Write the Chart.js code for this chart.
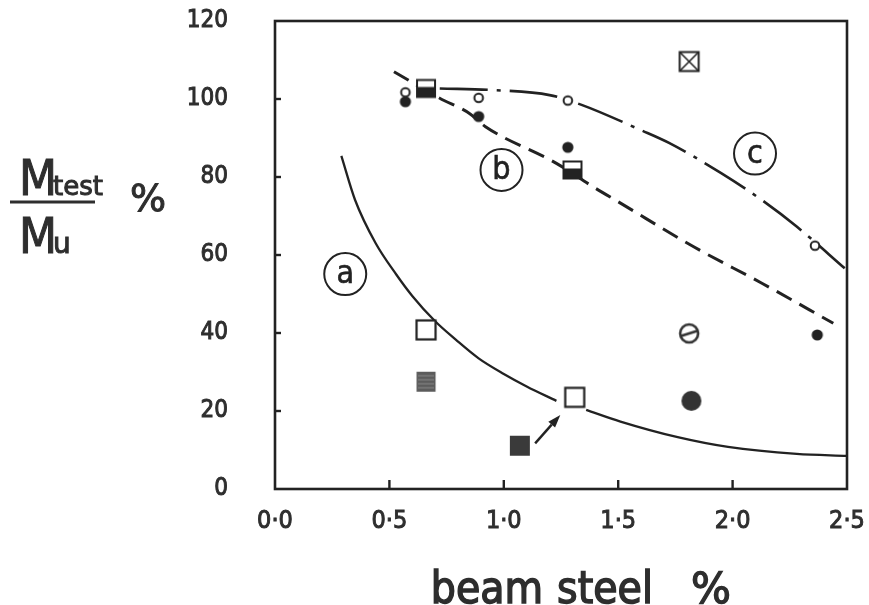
<!DOCTYPE html>
<html>
<head>
<meta charset="utf-8">
<script src="https://cdn.jsdelivr.net/npm/chart.js@4.4.1/dist/chart.umd.min.js"></script>
<style>
html,body{margin:0;padding:0;background:#fff;}
#wrap{width:869px;height:605px;}
</style>
</head>
<body>
<div id="wrap"><canvas id="c" width="869" height="605" style="width:869px;height:605px"></canvas></div>
<script>
// ---- axis tick labels ----
const xTickLabels = ['0·0','0·5','1·0','1·5','2·0','2·5'];

// ---- curve (a): solid ----
const curveAX = [0.29, 0.35, 0.44, 0.53, 0.60, 0.70, 0.79, 0.89, 1.00, 1.10, 1.23, 1.30, 1.36, 1.51, 1.76, 1.98, 2.28, 2.50];
const curveAY = [85.4, 74.1, 63.0, 55.0, 49.5, 43.0, 38.3, 33.5, 29.5, 26.3, 22.6, null, 20.3, 17.3, 13.3, 10.8, 9.0, 8.5];
// ---- curve (b): dashed ----
const curveBX = [0.52, 0.72, 0.85, 0.92, 1.23, 1.39, 1.51, 1.83, 2.13, 2.44];
const curveBY = [107.0, 100.2, 96.3, 92.9, 83.5, 77.5, 73.3, 62.1, 52.7, 42.5];
// ---- curve (c): dash-dot ----
const curveCX = [0.72, 0.95, 1.20, 1.34, 1.60, 1.72, 1.95, 2.13, 2.28, 2.49];
const curveCY = [102.7, 102.3, 101.0, 98.5, 92.0, 88.8, 81.0, 74.0, 67.3, 56.6];

// ---- test points ----
const openSmallX = [0.57, 0.89, 1.28, 2.36];
const openSmallY = [101.7, 100.3, 99.6, 62.4];
const filledSmallX = [0.57, 0.89, 1.28, 2.37];
const filledSmallY = [99.3, 95.5, 87.6, 39.5];
const halfSquareX = [0.66, 1.30];
const halfSquareY = [102.7, 81.8];
const crossSquareX = [1.81];
const crossSquareY = [109.6];
const openSquareX = [0.66, 1.31];
const openSquareY = [40.8, 23.5];
const hatchedSquareX = [0.66];
const hatchedSquareY = [27.5];
const darkSquareX = [1.07];
const darkSquareY = [11.1];
const slashCircleX = [1.81];
const slashCircleY = [39.9];
const bigCircleX = [1.82];
const bigCircleY = [22.6];

// ---- curve labels and arrow ----
const curveLabels = ['a', 'b', 'c'];
const curveLabelX = [0.307, 0.99, 2.098];
const curveLabelY = [55.1, 81.8, 86.0];
const arrowX = [1.137, 1.247];
const arrowY = [11.7, 19.0];

const NARROW = '"Liberation Sans Narrow", "DejaVu Sans Condensed", sans-serif';
const INK = '#222';

function pts(xs, ys) { return xs.map((x, i) => ({x: x, y: ys[i]})); }

function mk(size, fn) {
  const c = document.createElement('canvas');
  c.width = size; c.height = size;
  const g = c.getContext('2d');
  fn(g, size / 2);
  return c;
}
const mOpenSmall = mk(14, (g, m) => { g.beginPath(); g.arc(m, m, 4.3, 0, Math.PI*2); g.fillStyle='#fff'; g.fill(); g.lineWidth=2; g.strokeStyle=INK; g.stroke(); });
const mFilledSmall = mk(16, (g, m) => { g.beginPath(); g.arc(m, m, 5.6, 0, Math.PI*2); g.fillStyle=INK; g.fill(); });
const mHalfSquare = mk(22, (g, m) => { g.fillStyle='#fff'; g.fillRect(m-9, m-8.5, 18, 17); g.fillStyle=INK; g.fillRect(m-9, m-1.5, 18, 10); g.lineWidth=2; g.strokeStyle=INK; g.strokeRect(m-9, m-8.5, 18, 17); });
const mCrossSquare = mk(24, (g, m) => { g.fillStyle='#fff'; g.fillRect(m-9.5, m-9.5, 19, 19); g.lineWidth=2; g.strokeStyle=INK; g.strokeRect(m-9.5, m-9.5, 19, 19); g.beginPath(); g.moveTo(m-9, m-9); g.lineTo(m+9, m+9); g.moveTo(m+9, m-9); g.lineTo(m-9, m+9); g.lineWidth=1.6; g.stroke(); });
const mOpenSquare = mk(24, (g, m) => { g.fillStyle='#fff'; g.fillRect(m-9.5, m-9.5, 19, 19); g.lineWidth=2.2; g.strokeStyle=INK; g.strokeRect(m-9.5, m-9.5, 19, 19); });
const mHatched = mk(24, (g, m) => { g.fillStyle='#5c5c5c'; g.fillRect(m-9.5, m-10, 19, 20); g.strokeStyle='#8a8a8a'; g.lineWidth=1; for (let k=-6; k<=6; k+=4) { g.beginPath(); g.moveTo(m-8, m+k); g.lineTo(m+8, m+k); g.stroke(); } });
const mDark = mk(24, (g, m) => { g.fillStyle='#3a3a3a'; g.fillRect(m-10, m-10, 20, 20); });
const mSlash = mk(26, (g, m) => { g.beginPath(); g.arc(m, m, 9, 0, Math.PI*2); g.fillStyle='#fff'; g.fill(); g.lineWidth=2.6; g.strokeStyle='#333'; g.stroke(); g.beginPath(); g.moveTo(m-8, m+2.5); g.lineTo(m+8, m-2.5); g.stroke(); });
const mBig = mk(24, (g, m) => { g.beginPath(); g.arc(m, m, 10, 0, Math.PI*2); g.fillStyle='#333'; g.fill(); });

function markerSet(xs, ys, img) {
  return { type: 'scatter', data: pts(xs, ys), pointStyle: img, pointRadius: 10, showLine: false, order: 1,
           borderColor: INK, backgroundColor: INK };
}

function boldText(ctx, txt, x, y) { ctx.fillText(txt, x, y); ctx.strokeText(txt, x, y); }

const deco = {
  id: 'deco',
  beforeDatasetsDraw(chart) {
    const ctx = chart.ctx, a = chart.chartArea, xs = chart.scales.x, ys = chart.scales.y;
    ctx.save();
    ctx.strokeStyle = INK; ctx.lineWidth = 2.6;
    ctx.strokeRect(a.left, a.top, a.right - a.left, a.bottom - a.top);
    ctx.lineWidth = 2.4;
    ys.ticks.forEach(t => {
      if (t.value > ys.min && t.value < ys.max) {
        const y = ys.getPixelForValue(t.value);
        ctx.beginPath(); ctx.moveTo(a.left, y); ctx.lineTo(a.left + 6, y); ctx.stroke();
      }
    });
    xs.ticks.forEach(t => {
      if (t.value > xs.min && t.value < xs.max) {
        const x = xs.getPixelForValue(t.value);
        ctx.beginPath(); ctx.moveTo(x, a.bottom); ctx.lineTo(x, a.bottom - 9); ctx.stroke();
      }
    });
    ctx.restore();
  },
  afterDatasetsDraw(chart) {
    const ctx = chart.ctx, xs = chart.scales.x, ys = chart.scales.y;
    ctx.save();
    curveLabels.forEach((lab, i) => {
      const cx = xs.getPixelForValue(curveLabelX[i]), cy = ys.getPixelForValue(curveLabelY[i]);
      ctx.beginPath(); ctx.arc(cx, cy, 21, 0, Math.PI * 2);
      ctx.lineWidth = 2; ctx.strokeStyle = INK; ctx.stroke();
      ctx.fillStyle = INK; ctx.font = '32px ' + NARROW;
      ctx.textAlign = 'center'; ctx.textBaseline = 'alphabetic';
      ctx.lineWidth = 0.6;
      boldText(ctx, lab, cx, cy + 9);
    });
    const x0 = xs.getPixelForValue(arrowX[0]), y0 = ys.getPixelForValue(arrowY[0]);
    const x1 = xs.getPixelForValue(arrowX[1]), y1 = ys.getPixelForValue(arrowY[1]);
    const ang = Math.atan2(y1 - y0, x1 - x0), L = 13, W = 4.5;
    const bx = x1 - L * Math.cos(ang), by = y1 - L * Math.sin(ang);
    ctx.beginPath(); ctx.moveTo(x0, y0); ctx.lineTo(bx, by);
    ctx.lineWidth = 2.4; ctx.strokeStyle = INK; ctx.stroke();
    ctx.beginPath(); ctx.moveTo(x1, y1);
    ctx.lineTo(bx + W * Math.sin(ang), by - W * Math.cos(ang));
    ctx.lineTo(bx - W * Math.sin(ang), by + W * Math.cos(ang));
    ctx.closePath(); ctx.fillStyle = INK; ctx.fill();
    ctx.restore();
  },
  afterDraw(chart) {
    const ctx = chart.ctx;
    ctx.save();
    ctx.fillStyle = '#2e2e2e'; ctx.strokeStyle = '#2e2e2e'; ctx.lineWidth = 1;
    ctx.textAlign = 'left'; ctx.textBaseline = 'alphabetic';
    ctx.font = '49px ' + NARROW; boldText(ctx, 'M', 19, 195);
    ctx.font = '26px "DejaVu Sans"'; boldText(ctx, 'test', 53, 195);
    ctx.beginPath(); ctx.moveTo(10, 202); ctx.lineTo(95, 202); ctx.lineWidth = 3; ctx.stroke();
    ctx.lineWidth = 1;
    ctx.font = '49px ' + NARROW; boldText(ctx, 'M', 19, 253);
    ctx.font = '28px "DejaVu Sans"'; boldText(ctx, 'u', 53, 253);
    ctx.textAlign = 'center'; ctx.textBaseline = 'middle';
    ctx.font = '38px "DejaVu Sans"'; boldText(ctx, '%', 148, 201);
    ctx.textBaseline = 'alphabetic';
    ctx.lineWidth = 1.4;
    ctx.font = '44px ' + NARROW;
    boldText(ctx, 'beam', 487, 603);
    boldText(ctx, 'steel', 605, 603);
    ctx.font = '42px "DejaVu Sans"';
    boldText(ctx, '%', 711, 603);
    ctx.restore();
  }
};

new Chart(document.getElementById('c'), {
  type: 'line',
  data: {
    datasets: [
      markerSet(openSmallX, openSmallY, mOpenSmall),
      markerSet(filledSmallX, filledSmallY, mFilledSmall),
      markerSet(halfSquareX, halfSquareY, mHalfSquare),
      markerSet(crossSquareX, crossSquareY, mCrossSquare),
      markerSet(openSquareX, openSquareY, mOpenSquare),
      markerSet(hatchedSquareX, hatchedSquareY, mHatched),
      markerSet(darkSquareX, darkSquareY, mDark),
      markerSet(slashCircleX, slashCircleY, mSlash),
      markerSet(bigCircleX, bigCircleY, mBig),
      { data: pts(curveAX, curveAY), borderColor: INK, borderWidth: 2.3, pointRadius: 0,
        cubicInterpolationMode: 'monotone', spanGaps: false, fill: false, order: 10 },
      { data: pts(curveBX, curveBY), borderColor: INK, borderWidth: 3, borderDash: [17, 9], pointRadius: 0,
        cubicInterpolationMode: 'monotone', fill: false, order: 10 },
      { data: pts(curveCX, curveCY), borderColor: INK, borderWidth: 2.6, borderDash: [48, 9, 4, 9], pointRadius: 0,
        cubicInterpolationMode: 'monotone', fill: false, order: 10 }
    ]
  },
  options: {
    responsive: false,
    animation: false,
    devicePixelRatio: 1,
    layout: { padding: { top: 21, right: 22, left: 0, bottom: 0 } },
    plugins: { legend: { display: false }, tooltip: { enabled: false } },
    scales: {
      x: {
        type: 'linear', min: 0, max: 2.5,
        grid: { display: false, drawTicks: false },
        border: { display: false },
        ticks: { stepSize: 0.5, padding: 17, color: '#2e2e2e', maxRotation: 0,
                 textStrokeColor: '#2e2e2e', textStrokeWidth: 0.9,
                 font: { family: NARROW, size: 25 },
                 callback: (v) => xTickLabels[Math.round(v / 0.5)] },
        afterFit: (s) => { s.height = 116; s.paddingLeft = 0; s.paddingRight = 0; s.paddingTop = 0; s.paddingBottom = 0; }
      },
      y: {
        type: 'linear', min: 0, max: 120,
        grid: { display: false, drawTicks: false },
        border: { display: false },
        ticks: { stepSize: 20, padding: 47, color: '#2e2e2e',
                 textStrokeColor: '#2e2e2e', textStrokeWidth: 0.9,
                 font: { family: NARROW, size: 24 } },
        afterFit: (s) => { s.width = 275; s.paddingLeft = 0; s.paddingRight = 0; s.paddingTop = 0; s.paddingBottom = 0; }
      }
    }
  },
  plugins: [deco]
});
</script>
</body>
</html>
